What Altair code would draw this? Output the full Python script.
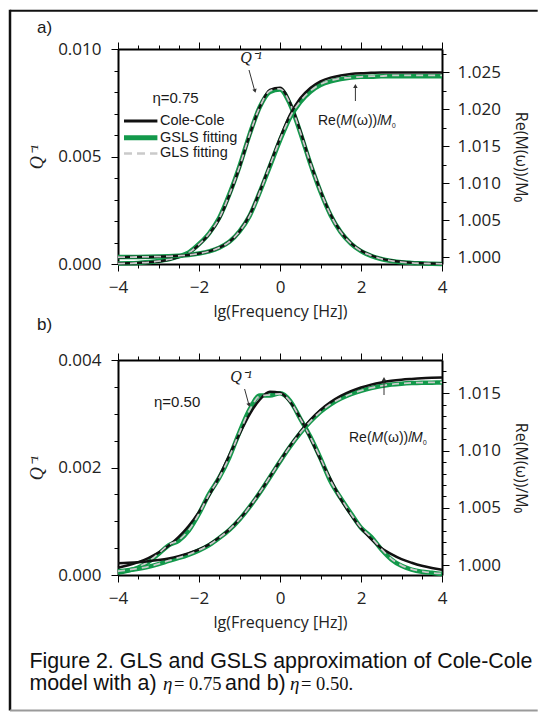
import altair as alt
import pandas as pd

# ---------------- data ----------------
x_lg = [-4.0, -3.75, -3.5, -3.25, -3.0, -2.75, -2.5, -2.25, -2.0, -1.75, -1.5, -1.25,
        -1.0, -0.75, -0.5, -0.25, 0.0, 0.25, 0.5, 0.75, 1.0, 1.25, 1.5, 1.75,
        2.0, 2.25, 2.5, 2.75, 3.0, 3.25, 3.5, 3.75, 4.0]

# panel a) eta = 0.75
qa_cole = [0.00002, 0.00003, 0.00005, 0.00008, 0.00012, 0.0002, 0.00032, 0.0005, 0.0009, 0.0014, 0.0021, 0.0032,
           0.0045, 0.006, 0.0073, 0.0081, 0.0082, 0.0075, 0.0062, 0.0047, 0.0034, 0.0023, 0.0015, 0.00097,
           0.00062, 0.0004, 0.00025, 0.00016, 0.0001, 0.00006, 0.00004, 0.00002, 0.00001]
qa_gsls = [0.00002, 0.00003, 0.00005, 0.00009, 0.00014, 0.00022, 0.00035, 0.00054, 0.00093, 0.00143, 0.00215, 0.00325,
           0.00455, 0.00603, 0.0073, 0.008, 0.00812, 0.00742, 0.00612, 0.00466, 0.00336, 0.00227, 0.00148, 0.00095,
           0.0006, 0.00038, 0.00023, 0.00014, 0.00008, 0.00005, 0.00003, 0.00001, 0.0]
qa_gls = [0.00002, 0.00003, 0.00005, 0.00008, 0.00013, 0.00021, 0.00034, 0.00052, 0.00091, 0.00142, 0.00213, 0.00323,
          0.00452, 0.00602, 0.0073, 0.00805, 0.00815, 0.00745, 0.00614, 0.00468, 0.00338, 0.00228, 0.00149, 0.00096,
          0.00061, 0.00039, 0.00024, 0.00015, 0.00009, 0.00005, 0.00003, 0.00002, 0.00001]
ra_cole = [1.00001, 1.00002, 1.00003, 1.00005, 1.00008, 1.00012, 1.0002, 1.0003, 1.0005, 1.0008, 1.0013, 1.0021,
           1.0035, 1.0057, 1.0089, 1.0125, 1.0161, 1.0193, 1.0215, 1.0229, 1.0238, 1.0243, 1.0246, 1.0248,
           1.0249, 1.02495, 1.025, 1.025, 1.025, 1.025, 1.025, 1.025, 1.025]
ra_gsls = [1.00002, 1.00003, 1.00004, 1.00006, 1.00009, 1.00013, 1.0002, 1.0003, 1.0005, 1.0008, 1.0013, 1.0021,
           1.0035, 1.0056, 1.0088, 1.0123, 1.0158, 1.0189, 1.021, 1.0224, 1.0233, 1.0238, 1.0241, 1.0243,
           1.0244, 1.0244, 1.0245, 1.0245, 1.0245, 1.0245, 1.0245, 1.0245, 1.0245]
ra_gls = [1.00002, 1.00003, 1.00004, 1.00006, 1.00009, 1.00013, 1.0002, 1.0003, 1.0005, 1.0008, 1.0013, 1.0021,
          1.0035, 1.0056, 1.0088, 1.0124, 1.0159, 1.019, 1.0211, 1.0225, 1.0234, 1.0239, 1.0242, 1.0243,
          1.0244, 1.0245, 1.0245, 1.0246, 1.0246, 1.0246, 1.0246, 1.0246, 1.0246]

# panel b) eta = 0.50
qb_cole = [0.000136, 0.00018, 0.00024, 0.000316, 0.000416, 0.000546, 0.00071, 0.000917, 0.001175, 0.00148, 0.00183, 0.00223,
           0.00262, 0.00299, 0.00326, 0.003407, 0.00339, 0.003217, 0.00292, 0.00255, 0.00215, 0.00178, 0.00141, 0.00112,
           0.00087, 0.00067, 0.000504, 0.000389, 0.000295, 0.000227, 0.000171, 0.000129, 0.000097]
qb_gsls = [0.00004, 0.00008, 0.00014, 0.00024, 0.00039, 0.00055, 0.00064, 0.00083, 0.00114, 0.00151, 0.00181, 0.00219,
           0.00266, 0.00308, 0.00334, 0.00334, 0.00338, 0.00324, 0.00291, 0.00257, 0.00217, 0.00174, 0.00143, 0.00115,
           0.00088, 0.00071, 0.00048, 0.00029, 0.00017, 0.0001, 0.00006, 0.00004, 0.00002]
qb_gls = [0.00005, 0.00009, 0.00015, 0.00025, 0.0004, 0.00056, 0.00065, 0.00084, 0.00114, 0.0015, 0.00181, 0.0022,
          0.00265, 0.00307, 0.00333, 0.00335, 0.00337, 0.00323, 0.00291, 0.00256, 0.00217, 0.00175, 0.00143, 0.00114,
          0.00088, 0.0007, 0.00049, 0.0003, 0.00018, 0.00011, 0.00007, 0.00004, 0.00003]
rb_cole = [1.00016, 1.00019, 1.00024, 1.00033, 1.00044, 1.00058, 1.00078, 1.00104, 1.00136, 1.00181, 1.00241, 1.00311,
           1.00401, 1.0051, 1.00634, 1.0077, 1.00908, 1.01042, 1.01163, 1.01268, 1.01355, 1.01424, 1.01478, 1.0152,
           1.01552, 1.01577, 1.01596, 1.0161, 1.0162, 1.01627, 1.01633, 1.01637, 1.0164]
rb_gsls = [0.99945, 0.99955, 0.99968, 0.99985, 1.00008, 1.00036, 1.00062, 1.00092, 1.00128, 1.00174, 1.00236, 1.00307,
           1.00398, 1.00508, 1.00632, 1.00768, 1.00905, 1.01036, 1.01153, 1.01254, 1.01339, 1.01405, 1.01455, 1.01493,
           1.01522, 1.01546, 1.01564, 1.01577, 1.01585, 1.0159, 1.01593, 1.01594, 1.01595]
rb_gls = [0.99947, 0.99957, 0.9997, 0.99987, 1.0001, 1.00038, 1.00064, 1.00094, 1.0013, 1.00176, 1.00238, 1.00309,
          1.004, 1.0051, 1.00634, 1.0077, 1.00907, 1.01038, 1.01155, 1.01256, 1.01341, 1.01407, 1.01457, 1.01495,
          1.01524, 1.01548, 1.01566, 1.01579, 1.01587, 1.01592, 1.01595, 1.01596, 1.01597]

series_names = ["Cole-Cole", "GSLS fitting", "GLS fitting"]

X_TICKS = [-4.0, -3.5, -3.0, -2.5, -2.0, -1.5, -1.0, -0.5, 0.0, 0.5, 1.0, 1.5, 2.0, 2.5, 3.0, 3.5, 4.0]
QA_TICKS = [0.0, 0.001, 0.002, 0.003, 0.004, 0.005, 0.006, 0.007, 0.008, 0.009, 0.010]
RA_TICKS = [1.0, 1.0025, 1.005, 1.0075, 1.01, 1.0125, 1.015, 1.0175, 1.02, 1.0225, 1.025, 1.0275]
QB_TICKS = [0.0, 0.0005, 0.001, 0.0015, 0.002, 0.0025, 0.003, 0.0035, 0.004]
RB_TICKS = [1.0, 1.001, 1.002, 1.003, 1.004, 1.005, 1.006, 1.007, 1.008, 1.009, 1.01,
            1.011, 1.012, 1.013, 1.014, 1.015, 1.016, 1.017]

QA_DOMAIN = [0.0, 0.010]
RA_DOMAIN = [0.99909, 1.02817]
QB_DOMAIN = [0.0, 0.004]
RB_DOMAIN = [0.99913, 1.01792]

df_a = pd.DataFrame({"x": x_lg, "q_cole": qa_cole, "q_gsls": qa_gsls, "q_gls": qa_gls,
                     "r_cole": ra_cole, "r_gsls": ra_gsls, "r_gls": ra_gls})
df_b = pd.DataFrame({"x": x_lg, "q_cole": qb_cole, "q_gsls": qb_gsls, "q_gls": qb_gls,
                     "r_cole": rb_cole, "r_gsls": rb_gsls, "r_gls": rb_gls})
ONE = pd.DataFrame({"k": [0]})

BLACK = "#111111"
GREEN = "#13994b"
GRAY = "#cacaca"
W, H = 324, 215
XSCALE = alt.Scale(domain=[-4, 4], nice=False, zero=False)
RE_TITLE = "Re(M(ω))/M₀"


def make_axis(orient, values, major, fmt, title=None, labels=True, label_pad=8, title_pad=8, title_font=None,
              title_style=None, title_size=None):
    kw = dict(orient=orient, values=values, labels=labels,
              labelExpr=f"({major}) ? format(datum.value, '{fmt}') : ''",
              tickSize={"condition": {"test": major, "value": 7}, "value": 4},
              labelPadding=label_pad, titlePadding=title_pad, grid=False,
              labelOverlap=False, labelFlush=False, title=title)
    if title_font:
        kw["titleFont"] = title_font
    if title_style:
        kw["titleFontStyle"] = title_style
    if title_size:
        kw["titleFontSize"] = title_size
    return alt.Axis(**kw)


X_MAJOR = "datum.value % 2 == 0"
x_bottom = make_axis("bottom", X_TICKS, X_MAJOR, "d", title="lg(Frequency [Hz])", label_pad=8, title_pad=8)
x_top = make_axis("top", X_TICKS, X_MAJOR, "d", title=None, labels=False)


def curve(df, field, color, width, scale, yaxis, xaxis, dash=None):
    m = dict(color=color, strokeWidth=width, interpolate="monotone")
    if dash:
        m["strokeDash"] = dash
    return alt.Chart(df).mark_line(**m).encode(
        x=alt.X("x:Q", scale=XSCALE, axis=xaxis),
        y=alt.Y(f"{field}:Q", scale=scale, axis=yaxis),
    )


def txt(s, x, y, size=14, font="Liberation Sans", style="normal", align="left", color="#1a1a1a"):
    return alt.Chart(ONE).mark_text(align=align, baseline="middle", font=font, fontSize=size,
                                    fontStyle=style, color=color).encode(
        x=alt.value(x), y=alt.value(y), text=alt.value(s))


def seg(x1, y1, x2, y2, color="#333333", width=1.0, dash=None):
    m = dict(color=color, strokeWidth=width)
    if dash:
        m["strokeDash"] = dash
    return alt.Chart(ONE).mark_rule(**m).encode(
        x=alt.value(x1), y=alt.value(y1), x2=alt.value(x2), y2=alt.value(y2))


def head(x, y, shape, angle=0):
    return alt.Chart(ONE).mark_point(shape=shape, filled=True, size=20, angle=angle,
                                     color="#333333", opacity=1).encode(x=alt.value(x), y=alt.value(y))


def re_label(x0, y):
    return [txt("Re(", x0, y), txt("M", x0 + 22.6, y, style="italic"), txt("(ω))/", x0 + 34.3, y),
            txt("M", x0 + 62.0, y, style="italic"), txt("₀", x0 + 73.5, y + 3, size=11)]


def panel(df, qdom, qticks, qmajor, rdom, rticks, rmajor, extras):
    qscale = alt.Scale(domain=qdom, nice=False, zero=False)
    rscale = alt.Scale(domain=rdom, nice=False, zero=False)
    qaxis = make_axis("left", qticks, qmajor, ".3f", title="Q⁻¹", label_pad=10, title_pad=11,
                      title_font="Liberation Serif", title_style="italic", title_size=18)
    raxis = make_axis("right", rticks, rmajor, ".3f", title=RE_TITLE, label_pad=8, title_pad=12)
    qg = alt.layer(
        curve(df, "q_gsls", GREEN, 4.5, qscale, qaxis, x_bottom),
        curve(df, "q_cole", BLACK, 2.5, qscale, qaxis, x_bottom),
        curve(df, "q_gls", GRAY, 1.8, qscale, qaxis, x_bottom, dash=[7, 5]),
    )
    rg = alt.layer(
        curve(df, "r_gsls", GREEN, 4.5, rscale, raxis, x_top),
        curve(df, "r_cole", BLACK, 2.5, rscale, raxis, x_top),
        curve(df, "r_gls", GRAY, 1.8, rscale, raxis, x_top, dash=[7, 5]),
    )
    return alt.layer(qg, rg, *extras).resolve_scale(y="independent").resolve_axis(
        x="independent", y="independent").properties(width=W, height=H)


extras_a = [
    txt("a)", -81, -21, size=17),
    txt("η=0.75", 34.4, 49.4, size=15),
    seg(6, 72, 39.4, 72, BLACK, 3),
    seg(6, 88.7, 39.4, 88.7, GREEN, 5),
    seg(6, 104.4, 39.4, 104.4, GRAY, 2.5, dash=[8, 5]),
    txt(series_names[0], 42, 72, size=14.5),
    txt(series_names[1], 42, 88.7, size=14.5),
    txt(series_names[2], 42, 104.4, size=14.5),
    txt("Q⁻¹", 133, 9, size=16, font="Liberation Serif", style="italic", align="center"),
    seg(131, 21, 136.5, 41),
    head(137, 42, "triangle-down", 345),
    seg(237.4, 52, 237.4, 38),
    head(237.4, 37, "triangle-up"),
] + re_label(200, 72)

extras_b = [
    txt("b)", -81, -35, size=17),
    txt("η=0.50", 36, 42.4, size=15),
    txt("Q⁻¹", 123, 17, size=16, font="Liberation Serif", style="italic", align="center"),
    seg(126.6, 29, 130.7, 44),
    head(131, 45, "triangle-down", 345),
    seg(266, 35, 266, 20),
    head(266, 19, "triangle-up"),
    # caption
    txt("Figure 2. GLS and GSLS approximation of Cole-Cole", -88.6, 302.4, size=21.4, color="#111111"),
    txt("model with a)", -88.6, 324.4, size=21.4, color="#111111"),
    txt("η", 45, 324.4, size=19, font="Liberation Serif", style="italic", color="#111111"),
    txt("= 0.75", 56, 324.4, size=18.5, font="Liberation Serif", color="#111111"),
    txt("and b)", 107, 324.4, size=21.4, color="#111111"),
    txt("η", 172, 324.4, size=19, font="Liberation Serif", style="italic", color="#111111"),
    txt("= 0.50.", 183, 324.4, size=18.5, font="Liberation Serif", color="#111111"),
    # figure frame
    seg(-108, -350.3, -108, 350.5, "#111111", 2.5),
    seg(-108, -349.3, 419.7, -349.3, "#111111", 2),
    seg(-108, 350.5, 419.7, 350.5, "#9a9a9a", 2),
] + re_label(231, 78)

panel_a = panel(df_a, QA_DOMAIN, QA_TICKS, "round(datum.value * 1000) % 5 == 0",
                RA_DOMAIN, RA_TICKS, "round((datum.value - 1) * 10000) % 50 == 0", extras_a)
panel_b = panel(df_b, QB_DOMAIN, QB_TICKS, "round(datum.value * 10000) % 20 == 0",
                RB_DOMAIN, RB_TICKS, "round((datum.value - 1) * 1000) % 5 == 0", extras_b)

chart = alt.vconcat(panel_a, panel_b, spacing=96, bounds="flush").properties(padding=0).configure_view(
    strokeWidth=0
).configure_axis(
    domainColor="black", domainWidth=2, tickColor="black", tickWidth=1,
    labelFont="Open Sans", labelFontSize=17, labelColor="#222222",
    titleFont="Open Sans", titleFontSize=16, titleFontWeight="normal", titleColor="#222222",
)

chart.save("out.html", embed_options={"renderer": "svg", "actions": False})
